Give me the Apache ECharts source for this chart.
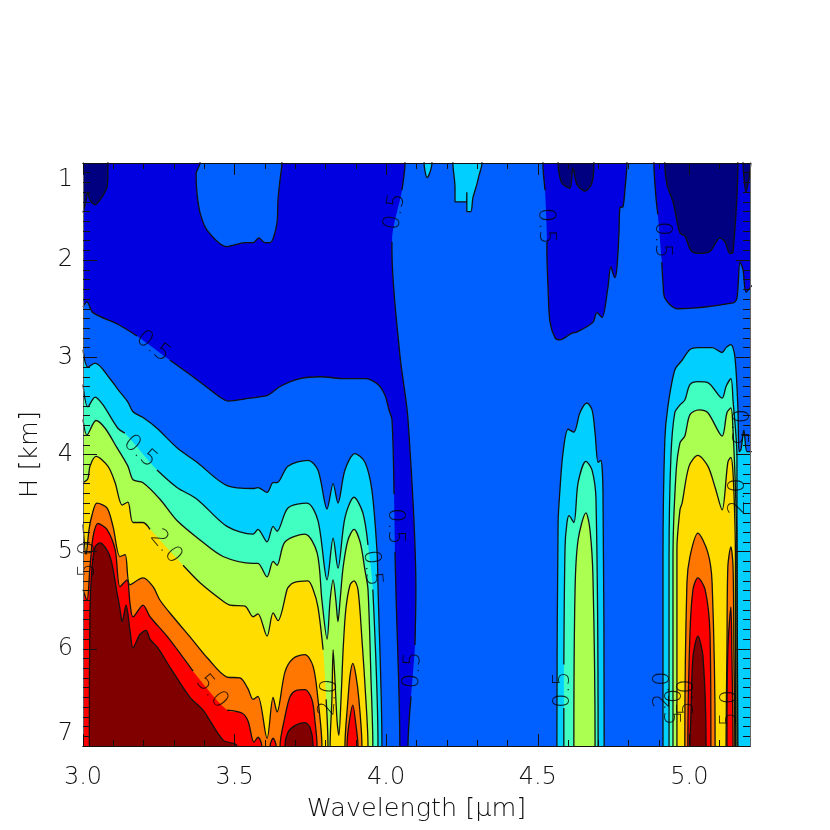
<!DOCTYPE html>
<html>
<head>
<meta charset="utf-8">
<title>H vs wavelength</title>
<style>
  html, body { margin: 0; padding: 0; background: #fff; }
  #main { width: 830px; height: 830px; }
</style>
<script src="https://cdn.jsdelivr.net/npm/echarts@6/dist/echarts.min.js"></script>
</head>
<body>
<div id="main"></div>
<script>
// axis ticks
var xMajor = [3.0, 3.5, 4.0, 4.5, 5.0];
var xMinor = [3.1, 3.2, 3.3, 3.4, 3.6, 3.7, 3.8, 3.9, 4.1, 4.2, 4.3, 4.4, 4.6, 4.7, 4.8, 4.9, 5.1];
var yMajor = [1, 2, 3, 4, 5, 6, 7];
var yMinor = [
  1.1, 1.2, 1.3, 1.4, 1.5, 1.6, 1.7, 1.8, 1.9, 2.1, 2.2, 2.3, 2.4, 2.5, 2.6, 2.7, 2.8, 2.9,
  3.1, 3.2, 3.3, 3.4, 3.5, 3.6, 3.7, 3.8, 3.9, 4.1, 4.2, 4.3, 4.4, 4.5, 4.6, 4.7, 4.8, 4.9,
  5.1, 5.2, 5.3, 5.4, 5.5, 5.6, 5.7, 5.8, 5.9, 6.1, 6.2, 6.3, 6.4, 6.5, 6.6, 6.7, 6.8, 6.9
];

// contour crossings: [wavelength, H], null = line gap under a label
// patches hanging from the top of the plot
var topNavy = [[3.000,1.51],[3.007,1.43],[3.016,1.31],[3.023,1.38],[3.040,1.43],[3.056,1.38],[3.079,1.25],[3.082,1.11],[3.082,0.86],
  [4.567,0.86],[4.567,1.00],[4.573,1.15],[4.583,1.22],[4.606,1.26],[4.616,1.05],[4.629,1.22],[4.656,1.29],[4.679,1.20],[4.685,1.00],[4.685,0.86],
  [4.919,0.86],[4.919,1.00],[4.926,1.22],[4.946,1.40],[4.969,1.72],[4.985,1.75],[5.005,1.90],[5.028,1.93],[5.068,1.91],[5.101,1.77],[5.117,1.81],[5.134,1.93],[5.144,1.92],[5.160,1.00],[5.160,0.86],
  [5.177,0.86],[5.177,1.00],[5.180,1.15],[5.187,1.30],[5.197,1.15],[5.203,1.00]];
var topLightBlue = [[3.386,0.86],[3.386,1.00],[3.373,1.11],[3.376,1.31],[3.386,1.51],[3.409,1.69],[3.475,1.86],[3.534,1.82],[3.561,1.82],[3.580,1.77],[3.600,1.82],[3.617,1.82],[3.640,1.61],[3.643,1.38],[3.650,1.17],[3.656,1.00],[3.656,0.86]];
var topCyan = [[4.125,0.86],[4.125,1.00],[4.135,1.15],[4.144,1.10],[4.151,1.00],[4.151,0.86],
  [4.220,0.86],[4.220,1.00],[4.227,1.25],[4.227,1.40],[4.263,1.40],[4.266,1.30],[4.266,1.50],[4.279,1.50],[4.286,1.36],[4.299,1.22],[4.306,1.13],[4.316,1.00],[4.316,0.86]];

// levels filled down to the bottom of the plot
var lightBlue = [[3.000,2.48],[3.013,2.43],[3.033,2.54],[3.115,2.66],[3.178,2.78],null,[3.287,3.03],[3.376,3.23],[3.452,3.41],[3.478,3.45],[3.551,3.42],[3.610,3.39],[3.650,3.30],[3.716,3.22],[3.782,3.20],[3.864,3.22],[3.930,3.22],[3.973,3.28],[3.996,3.39],[4.009,3.54],[4.019,3.64],[4.026,4.41],null,[4.029,5.00],[4.032,5.39],[4.045,7.00],[4.045,7.45],
  [4.072,7.45],[4.072,7.00],[4.082,6.49],null,[4.095,5.96],[4.098,5.39],[4.072,3.64],[4.045,2.97],[4.019,1.90],[4.019,1.81],null,[4.052,1.28],[4.062,1.00],[4.062,0.86],
  [4.517,0.86],[4.517,1.00],[4.524,1.28],null,[4.530,1.81],[4.530,1.90],[4.534,2.29],[4.540,2.63],[4.557,2.80],[4.573,2.82],[4.613,2.75],[4.629,2.74],[4.682,2.64],[4.695,2.54],[4.712,2.59],[4.731,2.29],[4.741,2.07],[4.754,2.18],[4.761,2.08],[4.768,1.71],[4.771,1.46],[4.781,1.45],[4.788,1.26],[4.794,1.00],[4.794,0.86],
  [4.883,0.86],[4.883,1.00],[4.890,1.36],[4.896,1.53],null,[4.909,2.02],[4.913,2.23],[4.919,2.39],[4.962,2.50],[5.144,2.44],[5.157,2.39],[5.167,2.02],[5.177,2.10],[5.187,2.33],[5.206,2.26]];
var cyan = [[3.000,2.92],[3.016,3.10],[3.040,3.06],[3.089,3.22],[3.115,3.33],[3.148,3.46],[3.165,3.56],[3.198,3.62],[3.244,3.73],[3.310,3.93],[3.376,4.08],[3.475,4.32],[3.561,4.35],[3.577,4.34],[3.607,4.39],[3.627,4.29],[3.640,4.29],[3.676,4.12],[3.742,4.06],[3.775,4.16],[3.805,4.56],[3.825,4.30],[3.841,4.50],[3.864,4.16],[3.897,3.99],[3.930,4.08],[3.953,4.37],[3.970,5.01],[3.973,5.36],[3.986,7.00],[3.986,7.45],
  [4.563,7.45],[4.563,7.00],[4.567,4.71],[4.573,4.37],[4.583,3.99],[4.600,3.74],[4.619,3.77],[4.639,3.57],[4.662,3.47],[4.679,3.54],[4.689,3.78],[4.699,4.08],[4.708,4.06],[4.715,4.37],[4.719,7.00],[4.719,7.45],
  [4.913,7.45],[4.913,7.00],[4.913,5.08],[4.919,3.85],[4.929,3.51],[4.952,3.13],[4.976,3.03],[5.002,2.92],[5.028,2.90],[5.075,2.90],[5.108,2.95],[5.121,2.90],[5.137,2.87],[5.150,2.99],[5.160,3.51],[5.164,3.97],[5.170,3.95],[5.180,3.75],[5.190,3.97],[5.206,3.97]];
var aqua = [[3.000,3.28],[3.016,3.51],[3.040,3.41],[3.066,3.49],[3.115,3.73],[3.138,3.78],null,[3.244,4.16],[3.310,4.34],[3.376,4.46],[3.475,4.74],[3.561,4.82],[3.577,4.77],[3.607,4.90],[3.627,4.74],[3.640,4.79],[3.676,4.55],[3.739,4.50],[3.775,4.68],[3.805,5.29],[3.825,4.86],[3.841,5.17],[3.864,4.65],[3.894,4.44],[3.923,4.60],[3.940,4.93],null,[3.956,5.39],[3.973,7.00],[3.973,7.45],
  [4.586,7.45],[4.586,7.00],[4.586,6.61],null,[4.586,6.16],[4.590,4.95],[4.596,4.71],[4.603,4.63],[4.619,4.70],[4.633,4.29],[4.659,4.07],[4.679,4.16],[4.692,4.46],[4.699,7.00],[4.699,7.45],
  [4.933,7.45],[4.933,7.00],[4.933,5.08],[4.939,4.03],[4.952,3.57],[4.969,3.49],[4.985,3.44],[5.002,3.28],[5.028,3.25],[5.061,3.26],[5.108,3.42],[5.121,3.30],[5.137,3.22],[5.144,3.44],[5.157,4.03],[5.157,5.08],[5.160,7.00],[5.160,7.45]];
var green = [[3.000,3.64],[3.013,3.80],[3.043,3.65],[3.073,3.73],[3.112,3.93],[3.148,4.12],[3.165,4.26],[3.198,4.29],[3.254,4.46],[3.310,4.68],[3.386,4.88],[3.462,5.05],[3.561,5.12],[3.577,5.12],[3.607,5.26],[3.627,5.10],[3.640,5.14],[3.666,4.90],[3.732,4.82],[3.772,5.01],[3.788,5.50],[3.805,5.90],[3.815,5.50],[3.825,5.29],[3.834,5.50],[3.841,5.72],[3.848,5.50],[3.858,5.16],[3.874,4.88],[3.894,4.77],[3.914,4.90],[3.930,5.19],[3.940,5.39],[3.950,6.32],[3.956,7.00],[3.956,7.45],
  [4.619,7.45],[4.619,7.00],[4.623,5.39],[4.633,4.88],[4.659,4.60],[4.672,4.77],[4.682,5.26],[4.689,7.00],[4.689,7.45],
  [4.946,7.45],[4.946,7.00],[4.946,5.08],[4.956,4.19],[4.969,3.88],[4.985,3.81],[5.002,3.59],[5.032,3.54],[5.061,3.57],[5.108,3.81],[5.124,3.57],[5.137,3.52],[5.144,3.75],[5.154,4.54],[5.157,5.08],[5.157,7.00],[5.157,7.45]];
var yellow = [[3.000,4.29],[3.016,4.25],[3.023,4.12],[3.043,4.02],[3.082,4.12],[3.106,4.29],[3.129,4.52],[3.148,4.49],[3.165,4.70],[3.198,4.70],[3.221,4.77],null,[3.330,5.14],[3.386,5.32],[3.458,5.50],[3.485,5.55],[3.534,5.56],[3.561,5.67],[3.577,5.64],[3.607,5.87],[3.627,5.63],[3.643,5.71],[3.673,5.39],[3.676,5.37],[3.693,5.32],[3.742,5.30],[3.759,5.39],[3.775,5.57],[3.792,6.01],null,[3.802,6.52],[3.808,7.00],[3.808,7.45],
  [3.815,7.45],[3.815,7.00],[3.821,6.52],[3.825,6.01],[3.831,6.32],[3.838,6.74],[3.844,6.89],[3.851,6.52],[3.858,6.01],[3.867,5.59],[3.881,5.34],[3.894,5.30],[3.907,5.39],[3.920,5.90],[3.933,6.52],[3.940,7.00],[3.940,7.45],
  [4.959,7.45],[4.959,7.00],[4.959,4.98],[4.969,4.57],[4.976,4.50],[4.999,4.12],[5.028,4.01],[5.061,4.12],[5.085,4.34],[5.108,4.57],[5.127,4.08],[5.137,4.03],[5.144,4.19],[5.150,4.68],[5.152,5.08],[5.152,7.00],[5.152,7.45]];
var orange = [[3.000,4.72],[3.010,5.03],[3.020,4.77],[3.030,4.62],[3.046,4.50],[3.079,4.55],[3.099,4.74],[3.122,5.05],[3.139,5.03],[3.155,5.34],[3.198,5.27],[3.231,5.36],[3.254,5.50],[3.297,5.67],[3.359,5.90],[3.412,6.10],[3.475,6.29],[3.518,6.30],[3.544,6.41],[3.561,6.52],[3.577,6.49],[3.607,6.92],[3.627,6.50],[3.640,6.65],[3.666,6.24],[3.693,6.10],[3.732,6.06],[3.759,6.18],[3.775,6.52],[3.788,7.00],[3.788,7.45],
  [3.864,7.45],[3.864,7.00],[3.874,6.52],[3.881,6.27],[3.890,6.15],[3.900,6.27],[3.910,6.52],[3.920,7.00],[3.920,7.45],
  [4.985,7.45],[4.985,7.00],[4.992,5.32],[5.002,5.05],[5.028,4.81],[5.061,5.01],[5.075,5.32],[5.085,7.00],[5.085,7.45],
  [5.121,7.45],[5.121,7.00],[5.124,6.01],[5.127,5.15],[5.137,4.95],[5.144,5.15],[5.147,6.01],[5.150,7.00],[5.150,7.45]];
var red = [[3.000,5.39],[3.013,5.50],[3.023,5.16],[3.033,4.85],[3.049,4.71],[3.079,4.77],[3.106,4.98],[3.122,5.36],[3.145,5.29],[3.155,5.53],[3.165,5.67],[3.198,5.55],[3.221,5.67],[3.277,5.87],[3.363,6.23],null,[3.475,6.63],[3.524,6.66],[3.544,6.74],[3.564,6.96],[3.577,6.91],[3.590,7.00],[3.590,7.45],
  [3.617,7.45],[3.617,7.00],[3.627,6.92],[3.637,7.00],[3.637,7.45],
  [3.650,7.45],[3.650,7.00],[3.666,6.70],[3.683,6.49],[3.702,6.43],[3.732,6.42],[3.755,6.52],[3.765,6.74],[3.772,7.00],[3.772,7.45],
  [3.871,7.45],[3.871,7.00],[3.877,6.78],[3.890,6.58],[3.900,6.78],[3.907,7.00],[3.907,7.45],
  [4.995,7.45],[4.995,7.00],[5.002,5.84],[5.012,5.39],[5.028,5.27],[5.052,5.39],[5.068,5.84],[5.071,7.00],[5.071,7.45],
  [5.124,7.45],[5.124,7.00],[5.127,6.01],[5.137,5.57],[5.140,6.01],[5.144,7.00],[5.144,7.45]];
var darkRed = [[3.021,7.45],[3.021,7.00],[3.023,5.59],[3.030,5.16],[3.040,4.95],[3.056,4.91],[3.089,5.05],[3.112,5.42],[3.122,5.59],[3.129,5.72],[3.142,5.55],[3.155,5.81],[3.165,5.99],[3.188,5.85],[3.208,5.81],[3.221,5.90],[3.247,5.99],[3.287,6.19],[3.353,6.50],[3.396,6.63],[3.462,6.94],[3.508,7.00],[3.508,7.45],
  [3.666,7.45],[3.666,7.00],[3.676,6.86],[3.699,6.79],[3.732,6.76],[3.749,6.81],[3.759,7.00],[3.759,7.45],
  [5.002,7.45],[5.002,7.00],[5.005,6.70],[5.012,6.08],[5.028,5.87],[5.045,6.08],[5.055,7.00],[5.055,7.45]];

// contour labels
var labelText = ["0.5", "0.5", "2.0", "5.0", "0.5", "0.5", "0.5", "0.5", "0.5", "0.5", "2.0", "0.5", "2.0", "5.0", "0.5", "5.0", "0.5", "2.0", "5.0"];
var labelLam = [3.231, 3.188, 3.274, 3.425, 4.029, 4.527, 4.909, 4.029, 3.953, 4.088, 3.811, 4.583, 4.913, 4.992, 4.936, 5.134, 5.160, 5.160, 3.016];
var labelH = [2.89, 3.97, 4.95, 6.44, 1.50, 1.65, 1.79, 4.74, 5.17, 6.22, 6.50, 6.42, 6.42, 6.50, 6.60, 6.61, 3.72, 4.43, 5.08];
var labelRot = [-38, -42, -50, -50, 80, -88, -90, -90, -85, 87, 85, 90, 90, 90, -90, 90, -90, 90, 90];

var fontName = "DejaVu Sans";
var lineColor = "#111";

var chartDom = document.getElementById("main");
var myChart = echarts.init(chartDom);
var option;

function contourSeries(points, color, origin) {
  return [
    {
      type: "line",
      data: points.filter(function (p) { return p; }),
      showSymbol: false,
      silent: true,
      smooth: 0.3,
      z: 2,
      lineStyle: { width: 0 },
      areaStyle: { color: color, opacity: 1, origin: origin },
    },
    {
      type: "line",
      data: points.map(function (p) { return p || ["-", "-"]; }),
      showSymbol: false,
      silent: true,
      smooth: 0.3,
      connectNulls: false,
      z: 3,
      lineStyle: { color: lineColor, width: 1.3 },
    },
  ];
}

function tickAxis(kind, position, values, length, labelled) {
  var axis = {
    type: "value",
    position: position,
    min: kind === "x" ? 3 : 1,
    max: kind === "x" ? 5.2 : 7,
    inverse: kind === "y",
    z: 5,
    splitLine: { show: false },
    axisLine: { show: true, onZero: false, lineStyle: { color: kind === "x" ? "#111" : "#666", width: 1 } },
    axisTick: { show: true, inside: true, length: length, customValues: values, lineStyle: { color: "#111", width: 1 } },
    axisLabel: { show: false },
  };
  if (labelled) {
    axis.axisLabel = {
      show: true,
      customValues: values,
      color: "#111",
      fontFamily: fontName,
      fontWeight: 200,
      fontSize: 24,
      margin: kind === "x" ? 20 : 10,
      padding: kind === "y" ? [5, 0, 0, 0] : 0,
      verticalAlignMinLabel: kind === "y" ? "top" : null,
      verticalAlignMaxLabel: kind === "y" ? "bottom" : null,
      formatter: function (v) { return kind === "x" ? v.toFixed(1) : String(v); },
    };
  }
  return axis;
}

var xAxes = [
  tickAxis("x", "bottom", xMajor, 12, true),
  tickAxis("x", "bottom", xMinor, 6),
  tickAxis("x", "top", xMajor, 12),
  tickAxis("x", "top", xMinor, 6),
];
var yAxes = [
  tickAxis("y", "left", yMajor, 14, true),
  tickAxis("y", "left", yMinor, 7),
  tickAxis("y", "right", yMajor, 14),
  tickAxis("y", "right", yMinor, 7),
];
xAxes[0].name = "Wavelength [μm]";
xAxes[0].nameLocation = "middle";
xAxes[0].nameGap = 50;
xAxes[0].nameTextStyle = { color: "#111", fontFamily: fontName, fontWeight: 200, fontSize: 25.5 };
yAxes[0].name = "H [km]";
yAxes[0].nameLocation = "middle";
yAxes[0].nameGap = 40;
yAxes[0].nameTextStyle = { color: "#111", fontFamily: fontName, fontWeight: 200, fontSize: 25.5 };

var labelData = labelText.map(function (t, i) {
  return {
    value: [labelLam[i], labelH[i]],
    label: { formatter: t, rotate: labelRot[i] },
  };
});

option = {
  animation: false,
  backgroundColor: "#fff",
  grid: {
    show: true,
    left: 83,
    right: 80,
    top: 163,
    bottom: 84,
    outerBoundsMode: "none",
    backgroundColor: "#0000e0",
    borderWidth: 0,
  },
  xAxis: xAxes,
  yAxis: yAxes,
  series: [].concat(
    contourSeries(topNavy, "#000080", "start"),
    contourSeries(lightBlue, "#0060ff", "end"),
    contourSeries(topLightBlue, "#0060ff", "start"),
    contourSeries(cyan, "#00cfff", "end"),
    contourSeries(topCyan, "#00cfff", "start"),
    contourSeries(aqua, "#40ffc0", "end"),
    contourSeries(green, "#aaff50", "end"),
    contourSeries(yellow, "#ffdd00", "end"),
    contourSeries(orange, "#ff7700", "end"),
    contourSeries(red, "#ff0000", "end"),
    contourSeries(darkRed, "#800000", "end"),
    [
      {
        type: "scatter",
        data: labelData,
        symbolSize: 0,
        silent: true,
        z: 4,
        label: {
          show: true,
          position: "inside",
          color: "#000",
          fontFamily: fontName,
          fontWeight: 200,
          fontSize: 23,
        },
      },
    ]
  ),
};

option && myChart.setOption(option);
</script>
</body>
</html>
